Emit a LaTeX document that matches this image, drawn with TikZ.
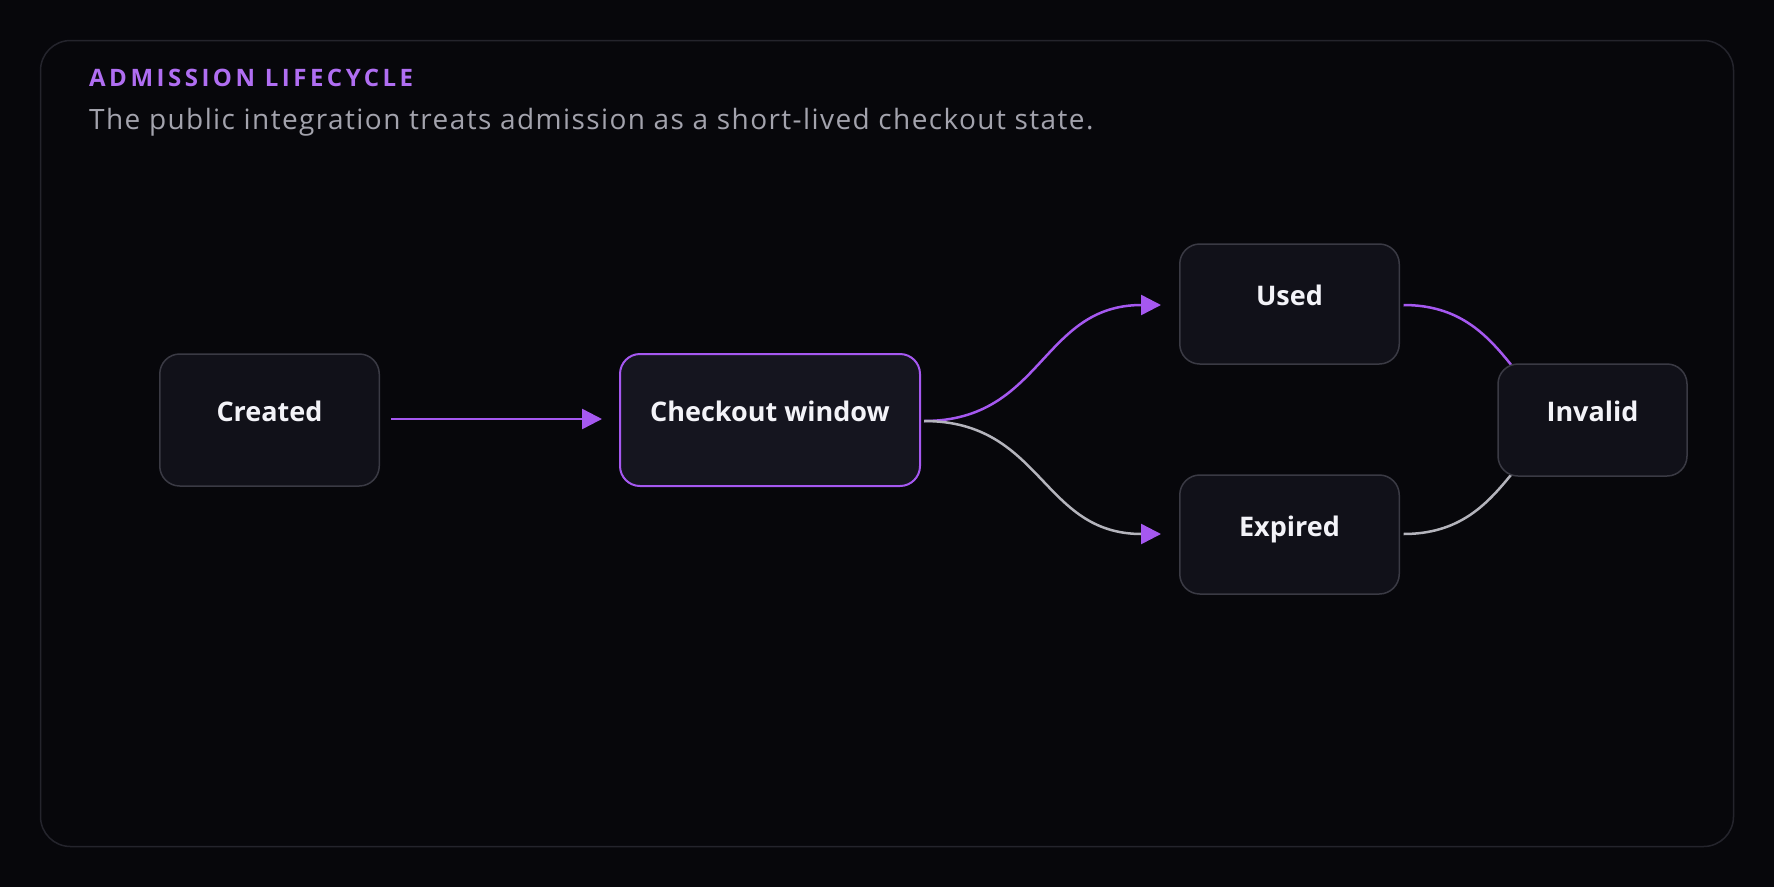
\documentclass[tikz,border=0pt]{standalone}
\usepackage{fontspec}
\setmainfont{Open Sans}
\newfontfamily\headfont[LetterSpace=14.6]{Open Sans}
\newfontfamily\leadfont[LetterSpace=5]{Open Sans}
\usetikzlibrary{arrows.meta}
\definecolor{pagebg}{HTML}{07070B}
\definecolor{framecol}{HTML}{24242C}
\definecolor{boxfill}{HTML}{111119}
\definecolor{boxline}{HTML}{3A3A44}
\definecolor{activefill}{HTML}{15151F}
\definecolor{accent}{HTML}{A558F0}
\definecolor{headcol}{HTML}{B06EF2}
\definecolor{mutedline}{HTML}{B4B4BC}
\definecolor{subtext}{HTML}{A3A3AD}
\definecolor{labeltext}{HTML}{F3F3F8}
\pgfdeclarelayer{bglayer}
\pgfdeclarelayer{edgelayer}
\pgfsetlayers{bglayer,edgelayer,main}
\begin{document}
\begin{tikzpicture}[x=1pt, y=-1pt, line join=round, line cap=round,
  >={Triangle[length=20pt,width=20pt]},
  state/.style={draw=boxline, line width=1.5pt, fill=boxfill, rounded corners=20pt,
    inner sep=0pt, text=labeltext, font=\fontsize{27}{32}\selectfont\bfseries,
    text height=20pt, text depth=17pt},
  active/.style={state, draw=accent, line width=2pt, fill=activefill},
  flow/.style={->, draw=accent, line width=2.5pt},
  quiet/.style={-{Triangle[length=20pt,width=20pt,color=accent]}, draw=mutedline, line width=2.5pt}]
	% page and frame
	\begin{pgfonlayer}{bglayer}
		\fill[pagebg] (0,0) rectangle (1774,887);
		\draw[framecol, line width=1.5pt, rounded corners=30pt] (40.5,40.5) rectangle (1733.5,846.5);
	\end{pgfonlayer}
	\useasboundingbox (0,0) rectangle (1774,887);
	\node[anchor=base west, inner sep=0pt, text=headcol, font=\headfont\fontsize{24}{28}\selectfont\bfseries] (title) at (89,86.7) {ADMISSION LIFECYCLE};
	\node[anchor=base west, inner sep=0pt, text=subtext, font=\leadfont\fontsize{28}{33}\selectfont] (subtitle) at (89,129) {The public integration treats admission as a short-lived checkout state.};
	% states
	\node[state, minimum width=219.5pt, minimum height=132pt] (created) at (269.5,420) {Created};
	\node[active, minimum width=300pt, minimum height=132pt] (checkout) at (770,420) {Checkout window};
	\node[state, minimum width=219.5pt, minimum height=120pt] (used) at (1289.5,304) {Used};
	\node[state, minimum width=219.5pt, minimum height=119pt] (expired) at (1289.5,534.5) {Expired};
	\node[state, minimum width=189pt, minimum height=112pt] (invalid) at (1592.5,420) {Invalid};
	% transitions
	\begin{pgfonlayer}{edgelayer}
		\draw[flow, shorten <=11pt, shorten >=17pt] ([yshift=1pt]created.east) -- ([yshift=1pt]checkout.west);
		\draw[flow] ([shift={(3,1)}]checkout.east) .. controls +(119,0) and +(-120,0) .. ([shift={(-18,1)}]used.west);
		\draw[quiet] ([shift={(3,1)}]checkout.east) .. controls +(119,0) and +(-120,0) .. ([shift={(-18,-0.5)}]expired.west);
		\draw[draw=accent, line width=2.5pt] ([shift={(3.5,1)}]used.east) .. controls +(110,0) and +(-80,0) .. (invalid.center);
		\draw[draw=mutedline, line width=2.5pt] ([shift={(3.5,-0.5)}]expired.east) .. controls +(110,0) and +(-80,0) .. (invalid.center);
	\end{pgfonlayer}
\end{tikzpicture}
\end{document}
